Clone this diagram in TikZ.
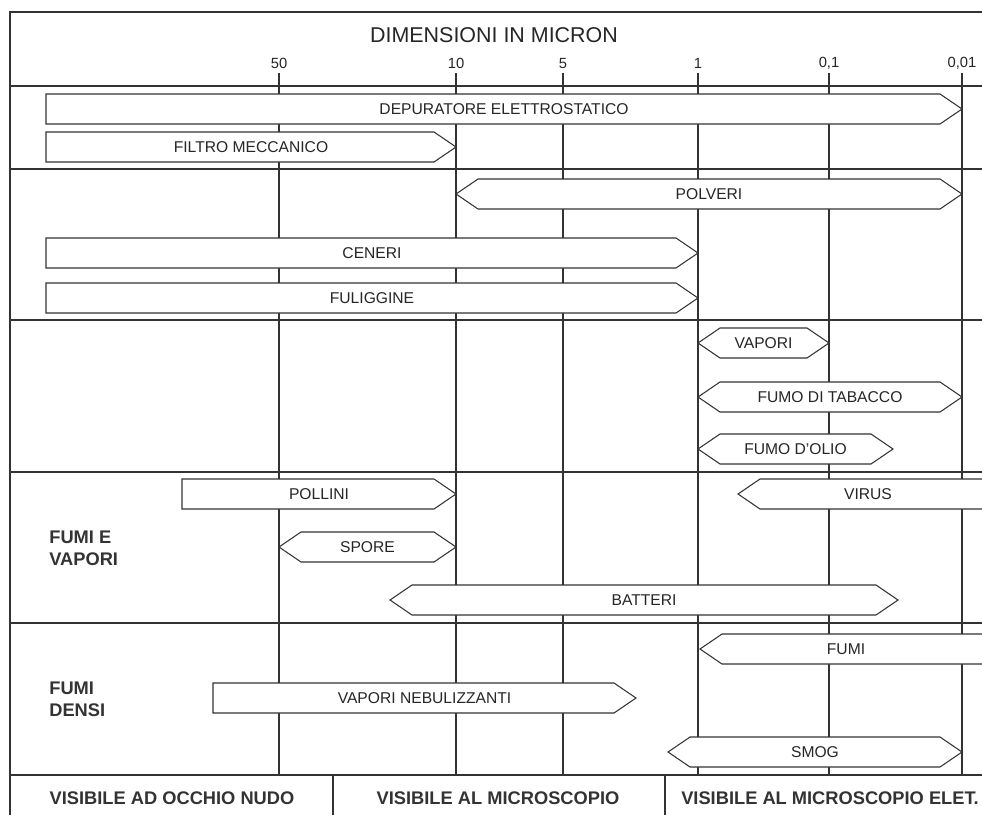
\documentclass[tikz,border=0pt]{standalone}
\usepackage{fontspec}
\setmainfont{Liberation Sans}

\tikzset{
  griglia/.style={draw=black!80, line width=0.7pt},
  barra/.style={draw=black!80, fill=white, line width=0.6pt},
  etichetta/.style={font=\fontsize{8.9}{10}\selectfont, text=black!85, inner sep=0pt},
  scala/.style={font=\fontsize{8.4}{10}\selectfont, text=black!85, inner sep=0pt},
  gruppo/.style={font=\fontsize{10.4}{12.4}\selectfont\bfseries, text=black!80, align=left, anchor=west, inner sep=0pt},
  visibile/.style={font=\fontsize{10.4}{12.4}\selectfont\bfseries, text=black!80, inner sep=0pt},
}

% #1 nome, #2 x sinistra, #3 x destra, #4 y alto, #5 punta sin, #6 punta des, #7 testo
\newcommand{\freccia}[7]{%
  \pgfmathsetmacro\ls{#5*22}\pgfmathsetmacro\rs{#6*22}
  \draw[barra] (#2+\ls,#4) -- (#3-\rs,#4) -- (#3,#4+15) -- (#3-\rs,#4+30)
    -- (#2+\ls,#4+30) -- (#2,#4+15) -- cycle;
  \node[etichetta] (#1) at ({(#2+#3)/2},#4+15) {#7};
}

\begin{document}
\begin{tikzpicture}[x=0.02cm, y=-0.02cm]
        \useasboundingbox (0,0) rectangle (982,815);
        \clip (0,0) rectangle (982,815);

        %%%%%%%%%% Griglia %%%%%%%%%%
        \draw[griglia] (10,815) -- (10,12) -- (982,12);
        \foreach \y in {86,169,320,472,623,775}
            \draw[griglia] (10,\y) -- (982,\y);
        \foreach \x/\v [count=\i] in {279/50, 456/10, 563/5, 698/1, 829/{0,1}, 962/{0,01}} {
            \draw[griglia] (\x,73) -- (\x,775);
            \node[scala] (tick\i) at (\x,63) {\v};
        }
        \draw[griglia] (333,775) -- (333,815);
        \draw[griglia] (665,775) -- (665,815);

        %%%%%%%%%% Titoli %%%%%%%%%%
        \node[font=\fontsize{12.2}{14}\selectfont, text=black!85, inner sep=0pt] (titolo) at (494,35) {DIMENSIONI IN MICRON};
        \node[gruppo] (vapori-gr) at (49,548) {FUMI E\\VAPORI};
        \node[gruppo] (densi-gr) at (49,699) {FUMI\\DENSI};
        \node[visibile] (occhio) at (172,798) {VISIBILE AD OCCHIO NUDO};
        \node[visibile] (micro) at (498,798) {VISIBILE AL MICROSCOPIO};
        \node[visibile] (elet) at (830,798) {VISIBILE AL MICROSCOPIO ELET.};

        %%%%%%%%%% Frecce %%%%%%%%%%
        \freccia{dep}{46}{962}{94}{0}{1}{DEPURATORE ELETTROSTATICO}
        \freccia{filtro}{46}{456}{132}{0}{1}{FILTRO MECCANICO}
        \freccia{polveri}{456}{962}{179}{1}{1}{POLVERI}
        \freccia{ceneri}{46}{698}{238}{0}{1}{CENERI}
        \freccia{fuliggine}{46}{698}{283}{0}{1}{FULIGGINE}
        \freccia{vapori}{698}{829}{328}{1}{1}{VAPORI}
        \freccia{tabacco}{698}{962}{382}{1}{1}{FUMO DI TABACCO}
        \freccia{olio}{698}{893}{434}{1}{1}{FUMO D'OLIO}
        \freccia{pollini}{182}{456}{479}{0}{1}{POLLINI}
        \freccia{virus}{738}{998}{479}{1}{0}{VIRUS}
        \freccia{spore}{279}{456}{532}{1}{1}{SPORE}
        \freccia{batteri}{390}{898}{585}{1}{1}{BATTERI}
        \freccia{fumi}{700}{992}{634}{1}{0}{FUMI}
        \freccia{nebul}{213}{636}{683}{0}{1}{VAPORI NEBULIZZANTI}
        \freccia{smog}{668}{962}{737}{1}{1}{SMOG}
    \end{tikzpicture}
\end{document}
